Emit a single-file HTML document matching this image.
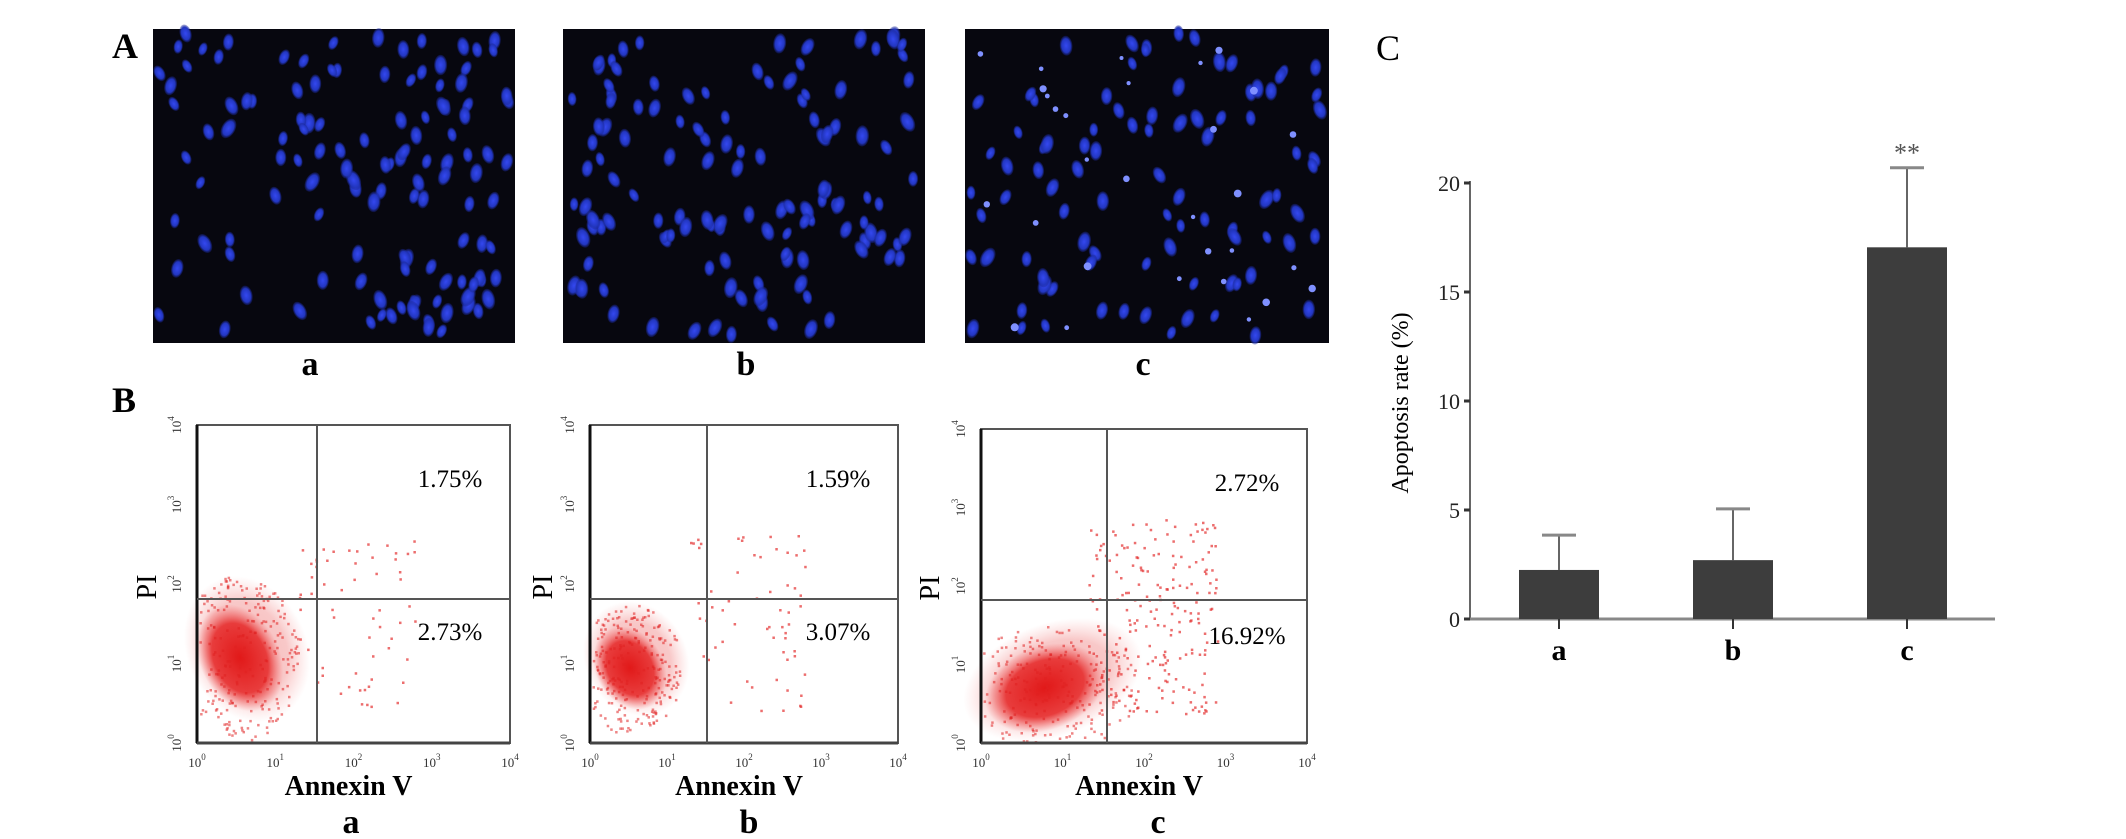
<!DOCTYPE html>
<html><head><meta charset="utf-8"><style>
html,body{margin:0;padding:0;background:#fff;}
svg{display:block;}
text{font-family:"Liberation Serif",serif;}
</style></head><body>
<svg id="fig" width="2126" height="839" viewBox="0 0 2126 839">
<defs>
<radialGradient id="rg"><stop offset="0" stop-color="#e01010" stop-opacity="0.95"/><stop offset="0.65" stop-color="#e41a1a" stop-opacity="0.8"/><stop offset="1" stop-color="#f05050" stop-opacity="0"/></radialGradient>
<radialGradient id="nuc"><stop offset="0" stop-color="#3448f0"/><stop offset="0.7" stop-color="#2236c0"/><stop offset="1" stop-color="#1a2590" stop-opacity="0.3"/></radialGradient>
</defs>
<text x="112" y="58" font-size="36" font-weight="bold">A</text>
<text x="112" y="412" font-size="36" font-weight="bold">B</text>
<text x="1376" y="60" font-size="36">C</text>
<g id="micro"></g>
<g id="flow"></g>
<g id="bars"></g>
</svg>
<script>
// Bar chart data (panel C)
const categories = ["a","b","c"];
const meanValues = [2.25, 2.7, 17.05];
const errValues = [1.6, 2.35, 3.65];
const yTicks = [0,5,10,15,20];
const flowLabels = ["a","b","c"];
const upperRight = ["1.75%","1.59%","2.72%"];
const lowerRight = ["2.73%","3.07%","16.92%"];

const NS="http://www.w3.org/2000/svg";
function mk(tag,attrs,parent,txt){const e=document.createElementNS(NS,tag);for(const k in attrs)e.setAttribute(k,attrs[k]);if(txt!==undefined)e.textContent=txt;parent.appendChild(e);return e;}

// ---- microscopy panels ----
const micro=document.getElementById('micro');
const imgs=[[153,515],[563,925],[965,1329]];
let seed=7;function rnd(){seed=(seed*16807)%2147483647;return seed/2147483647;}
imgs.forEach((p,i)=>{
  const g=mk('g',{},micro);
  
  
  mk('rect',{x:p[0],y:29,width:p[1]-p[0],height:314,fill:'#07070f'},g);
  const n=i===2?90:125;
  for(let k=0;k<n;k++){
    const cx=p[0]+6+rnd()*(p[1]-p[0]-12), cy=33+rnd()*306;
    const r=5.5+rnd()*3;
    mk('ellipse',{cx:cx.toFixed(1),cy:cy.toFixed(1),rx:(r*0.8).toFixed(1),ry:(r*1.25).toFixed(1),fill:'url(#nuc)',transform:`rotate(${(rnd()*60-30).toFixed(0)} ${cx.toFixed(1)} ${cy.toFixed(1)})`},g);
  }
  if(i===2){for(let k=0;k<30;k++){const cx=p[0]+10+rnd()*(p[1]-p[0]-20),cy=35+rnd()*300;mk('circle',{cx:cx.toFixed(1),cy:cy.toFixed(1),r:(2+rnd()*2).toFixed(1),fill:'#7f90ff'},g);}}
  const lx=[310,746,1143][i];
  const t=mk('text',{x:lx,y:375,'font-size':34,'font-weight':'bold','text-anchor':'middle'},micro,categories[i]);
  
  
});

// ---- flow cytometry panels ----
const flow=document.getElementById('flow');
const plots=[
 {l:197,r:510,t:425,b:743,gx:317,gy:599,lab:351,cl:[240,658,40,56,-25],pi:146},
 {l:590,r:898,t:425,b:743,gx:707,gy:599,lab:749,cl:[630,668,34,44,-30],pi:542},
 {l:981,r:1307,t:429,b:743,gx:1107,gy:600,lab:1158,cl:[1045,688,62,42,-20],pi:929}
];
plots.forEach((p,i)=>{
  const g=mk('g',{},flow);
  
  
  const c=p.cl;
  mk('ellipse',{cx:c[0]+10,cy:c[1]-5,rx:c[2]*1.5,ry:c[3]*1.35,fill:'url(#rg)',opacity:0.3,transform:`rotate(${c[4]} ${c[0]} ${c[1]})`},g);
  mk('ellipse',{cx:c[0],cy:c[1],rx:c[2],ry:c[3],fill:'url(#rg)',transform:`rotate(${c[4]} ${c[0]} ${c[1]})`},g);
  // dense speckle around the cluster
  for(let k=0;k<260;k++){
    const a=rnd()*6.283, rr=Math.sqrt(rnd())*1.5;
    const x=c[0]+Math.cos(a)*c[2]*rr, y=c[1]+Math.sin(a)*c[3]*rr;
    if(x<p.l+2||y>p.b-2) continue;
    mk('rect',{x:x.toFixed(1),y:y.toFixed(1),width:2.5,height:2.5,fill:'#e02020',opacity:0.55},g);
  }
  // sparse events
  for(let k=0;k<(i===2?220:60);k++){
    const x=p.gx-20+rnd()*(i===2?130:120), y=p.t+(i===2?90:110)+rnd()*(p.b-p.t-(i===2?120:140));
    mk('rect',{x:x.toFixed(1),y:y.toFixed(1),width:2.5,height:2.5,fill:'#e43030',opacity:0.7},g);
  }
  mk('rect',{x:p.l,y:p.t,width:p.r-p.l,height:p.b-p.t,fill:'none',stroke:'#555',"stroke-width":2},g);
  mk('line',{x1:p.l,x2:p.l,y1:p.t,y2:p.b,stroke:'#111','stroke-width':3},g);
  mk('line',{x1:p.l,x2:p.r,y1:p.b,y2:p.b,stroke:'#444','stroke-width':3},g);
  mk('line',{x1:p.gx,x2:p.gx,y1:p.t,y2:p.b,stroke:'#555','stroke-width':2},g);
  mk('line',{x1:p.l,x2:p.r,y1:p.gy,y2:p.gy,stroke:'#555','stroke-width':2},g);
  const ur=mk('text',{x:p.r-60,y:p.t+62,'font-size':25,'text-anchor':'middle'},g,upperRight[i]);
  
  
  const lr=mk('text',{x:p.r-60,y:p.t+215,'font-size':25,'text-anchor':'middle'},g,lowerRight[i]);
  
  
  for(let d=0;d<=4;d++){
    const x=p.l+(p.r-p.l)*d/4, y=p.b-(p.b-p.t)*d/4;
    const xt=mk('text',{x:x,y:p.b+24,'font-size':13,'text-anchor':'middle',fill:'#333'},g,'10');
    mk('tspan',{dy:-7,'font-size':9},xt,String(d));
    const yt=mk('text',{x:0,y:0,'font-size':13,'text-anchor':'middle',fill:'#333',transform:`translate(${p.l-16},${y}) rotate(-90)`},g,'10');
    mk('tspan',{dy:-7,'font-size':9},yt,String(d));
  }
  const xa=mk('text',{x:(p.l+p.r)/2-5,y:795,'font-size':28,'font-weight':'bold','text-anchor':'middle'},g,'Annexin V');
  
  
  const ya=mk('text',{x:0,y:0,'font-size':28,'text-anchor':'middle',transform:`translate(${p.pi+10},${p.gy-12}) rotate(-90)`},g,'PI');
  
  
  const lb=mk('text',{x:p.lab,y:833,'font-size':34,'font-weight':'bold','text-anchor':'middle'},g,flowLabels[i]);
  
  
});

// ---- bar chart ----
const bars=document.getElementById('bars');
const X0=1470, X1=1995, Y0=619, PXU=21.8;
const yScale=v=>Y0-v*PXU;
const xCenters=[1559,1733,1907];
const barW=80;
const xScale=i=>xCenters[i];
const axis=mk('g',{},bars);


mk('line',{x1:X0,x2:X0,y1:yScale(20)-2,y2:Y0,stroke:'#666','stroke-width':2},axis);
yTicks.forEach(v=>{
  mk('line',{x1:X0-6,x2:X0,y1:yScale(v),y2:yScale(v),stroke:'#333','stroke-width':3},axis);
  const t=mk('text',{x:X0-10,y:yScale(v)+8,'font-size':22,'text-anchor':'end',fill:'#222'},axis,String(v));
  
  
});
const xa=mk('line',{x1:X0,x2:X1,y1:Y0,y2:Y0,stroke:'#888','stroke-width':3},bars);


const yt=mk('text',{x:0,y:0,'font-size':24,'text-anchor':'middle',transform:`translate(1408,403) rotate(-90)`},bars,'Apoptosis rate (%)');


categories.forEach((c,i)=>{
  const cx=xScale(i), top=yScale(meanValues[i]), et=yScale(meanValues[i]+errValues[i]);
  const eb=mk('line',{x1:cx,x2:cx,y1:et,y2:top,stroke:'#666','stroke-width':2},bars);
  
  
  const cap=mk('line',{x1:cx-17,x2:cx+17,y1:et,y2:et,stroke:'#888','stroke-width':3},bars);
  
  
  const r=mk('rect',{x:cx-barW/2,y:top,width:barW,height:Y0-top,fill:'#3d3d3d'},bars);
  
  
  mk('line',{x1:cx,x2:cx,y1:Y0,y2:Y0+10,stroke:'#333','stroke-width':2},bars);
  const t=mk('text',{x:cx,y:660,'font-size':30,'font-weight':'bold','text-anchor':'middle'},bars,c);
  
  
});
const sig=mk('text',{x:xScale(2),y:yScale(meanValues[2]+errValues[2])-6,'font-size':26,'text-anchor':'middle',fill:'#555'},bars,'**');


</script>
</body></html>
